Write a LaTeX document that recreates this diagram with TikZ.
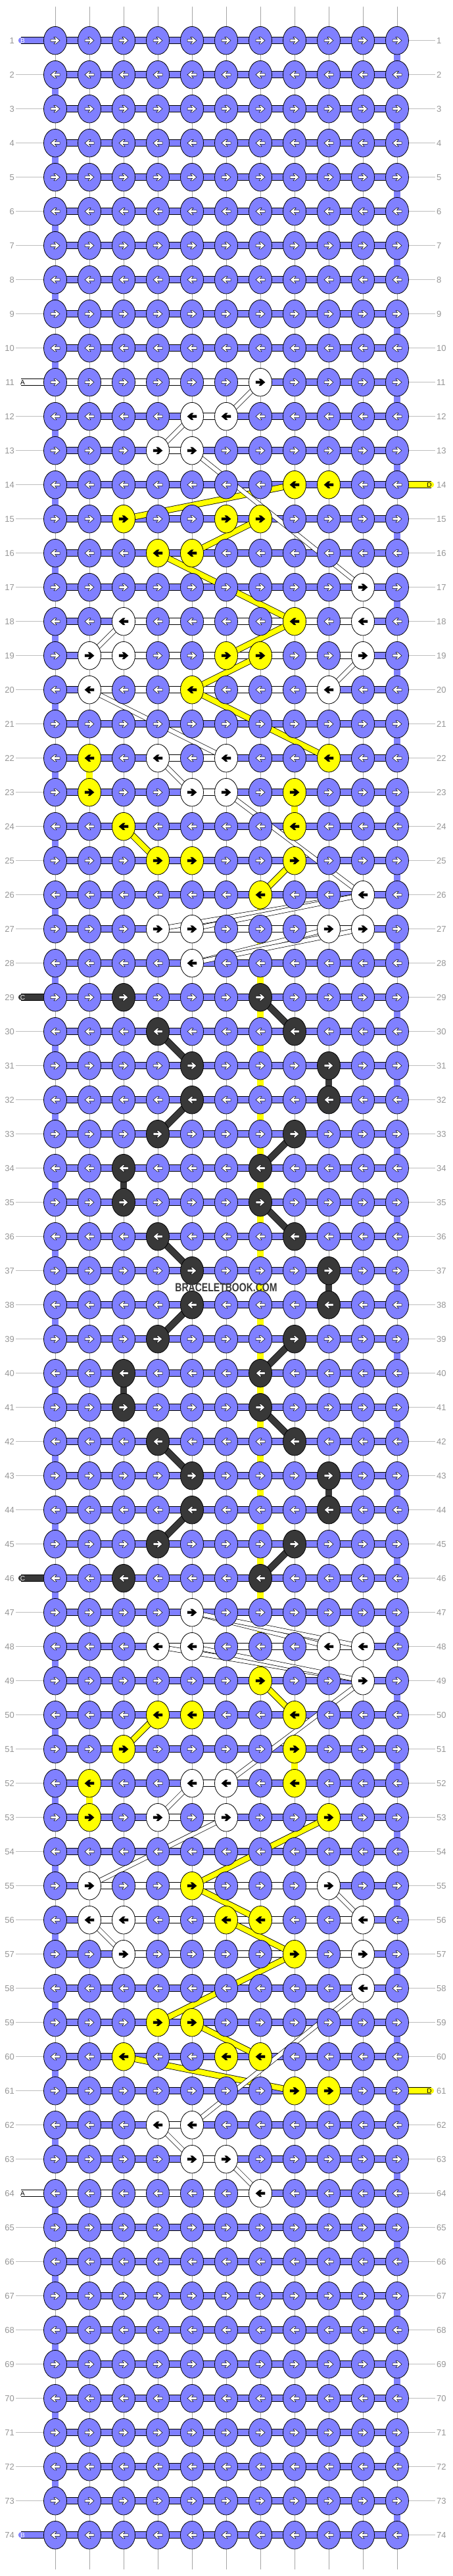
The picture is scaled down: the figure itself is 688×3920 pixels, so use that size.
\documentclass[tikz,border=0pt]{standalone}
\usepackage{fontspec}
\setmainfont{Liberation Sans}
\usetikzlibrary{shapes.geometric}

\definecolor{kblue}{RGB}{128,128,255}
\definecolor{kyellow}{RGB}{255,255,0}
\definecolor{kdark}{RGB}{56,56,56}
\definecolor{labgray}{RGB}{150,150,150}
\definecolor{linegray}{RGB}{190,190,190}
\definecolor{midgray}{RGB}{165,165,165}

\pgfdeclarelayer{bg}
\pgfdeclarelayer{back}
\pgfsetlayers{bg,back,main}

\newcommand\setknot[3]{\expandafter\xdef\csname kn#1-#2\endcsname{#3}}
\newcommand\setvcon[3]{\expandafter\xdef\csname vc#1-#2\endcsname{#3}}
\newcommand\setspan[3]{\expandafter\xdef\csname hsa#1\endcsname{#2}\expandafter\xdef\csname hsb#1\endcsname{#3}}

\tikzset{
  knot/.style={ellipse, draw=black, line width=0.8pt, minimum width=35pt, minimum height=42.6pt, inner sep=0pt},
  knotb/.style={knot, fill=kblue},
  knotw/.style={knot, fill=white},
  knoty/.style={knot, fill=kyellow},
  knotk/.style={knot, fill=kdark},
  arrb/.style={fill=white, draw=black, line width=0.5pt},
  arrk/.style={arrb},
  arrw/.style={fill=black},
  arry/.style={fill=black},
  strand/.style={line width=9.2pt, preaction={draw=black, line width=10.8pt}},
  vconw/.style={strand, draw=white, postaction={draw=midgray, line width=0.5pt}},
  vconb/.style={strand, draw=kblue},
  vcony/.style={strand, draw=kyellow},
  vconk/.style={strand, draw=kdark},
  hconb/.style={strand, draw=kblue},
  hconw/.style={strand, draw=white},
  tubeB/.style={strand, draw=kblue, line cap=round},
  tubeA/.style={strand, draw=white, line cap=round},
  tubeC/.style={strand, draw=kdark, line cap=round},
  tubeD/.style={strand, draw=kyellow, line cap=round},
  tubelab/.style={font=\fontsize{10}{10}\selectfont, inner sep=0pt},
  tubelabB/.style={tubelab, text=white},
  tubelabA/.style={tubelab, text=black},
  tubelabC/.style={tubelab, text=white},
  tubelabD/.style={tubelab, text=black},
  dyel/.style={line width=8pt, draw=kyellow, preaction={draw=black, line width=9.6pt}},
  dwht/.style={line width=6pt, draw=white, preaction={draw=black, line width=7.4pt}},
  dblk/.style={line width=9pt, draw=kdark, preaction={draw=black, line width=10.4pt}},
  lab/.style={font=\fontsize{13}{13}\selectfont, text=labgray, inner sep=2pt},
  gline/.style={draw=linegray, line width=0.8pt},
  wmark/.style={font=\bfseries\fontsize{18}{18}\selectfont, text=kdark, inner sep=0pt}
}

\begin{document}
\begin{tikzpicture}[x=1pt, y=-1pt]
\useasboundingbox (0,0) rectangle (688,3920);
\begin{pgfonlayer}{bg}
\fill[white] (0,0) rectangle (688,3920);
\end{pgfonlayer}

% knot colours (upper half, mirrored to the lower half)
\foreach \row/\col/\kk in {11/7/w, 12/5/w, 12/6/w, 13/4/w, 13/5/w, 14/8/y, 14/9/y,
    15/3/y, 15/6/y, 15/7/y, 16/4/y, 16/5/y, 17/10/w, 18/3/w, 18/8/y, 18/10/w,
    19/2/w, 19/3/w, 19/6/y, 19/7/y, 19/10/w, 20/2/w, 20/5/y, 20/9/w,
    22/2/y, 22/4/w, 22/6/w, 22/9/y, 23/2/y, 23/5/w, 23/6/w, 23/8/y,
    24/3/y, 24/8/y, 25/4/y, 25/5/y, 25/8/y, 26/7/y, 26/10/w,
    27/4/w, 27/5/w, 27/9/w, 27/10/w, 28/5/w,
    29/3/k, 29/7/k, 30/4/k, 30/8/k, 31/5/k, 31/9/k, 32/5/k, 32/9/k, 33/4/k, 33/8/k,
    34/3/k, 34/7/k, 35/3/k, 35/7/k, 36/4/k, 36/8/k, 37/5/k, 37/9/k}{
  \pgfmathtruncatemacro\mr{75-\row}
  \setknot{\row}{\col}{\kk}\setknot{\mr}{\col}{\kk}
}
% vertical strands that are not white
\foreach \row/\col/\kk in {22/2/y, 23/8/y, 26/7/y, 27/7/y, 28/7/y, 29/7/y, 30/7/y, 31/7/y,
    32/7/y, 33/7/y, 34/7/y, 35/7/y, 36/7/y, 37/7/y, 31/9/k, 34/3/k, 37/9/k}{
  \pgfmathtruncatemacro\mr{74-\row}
  \setvcon{\row}{\col}{\kk}\setvcon{\mr}{\col}{\kk}
}
% white runs along a row
\foreach \row/\sa/\sb in {11/1/7, 12/5/6, 13/4/5, 18/3/10, 19/2/10, 20/2/9, 22/4/6, 23/5/6, 27/4/10}{
  \pgfmathtruncatemacro\mr{75-\row}
  \setspan{\row}{\sa}{\sb}\setspan{\mr}{\sa}{\sb}
}

% knots
\foreach \row in {1,...,74}{
  \pgfmathtruncatemacro\dir{1-2*mod(\row+1,2)}
  \foreach \col in {1,...,11}{
    \ifcsname kn\row-\col\endcsname \edef\kc{\csname kn\row-\col\endcsname}\else \def\kc{b}\fi
    \node[knot\kc] (k\row-\col) at ({32+52*\col},{9.7+52*\row}) {};
    \draw[arr\kc, shift={(k\row-\col.center)}, xscale=\dir] (-7,1.8) -- (0.5,1.8) -- (-2,5.2)
      -- (0.8,5.2) -- (7,0) -- (0.8,-5.2) -- (-2,-5.2) -- (0.5,-1.8) -- (-7,-1.8) -- cycle;
  }
  \node[lab, anchor=east] (ll\row) at (24,{9.7+52*\row}) {\row};
  \node[lab, anchor=west] (lr\row) at (662,{9.7+52*\row}) {\row};
}

% loose ends at the sides
\foreach \row/\t in {1/B, 11/A, 29/C, 46/C, 64/A, 74/B}{
  \expandafter\xdef\csname lt\row\endcsname{\t}
  \node[tubelab\t] (tl\row) at (34.5,{9.7+52*\row}) {\t};
}
\foreach \row/\t in {14/D, 61/D}{
  \expandafter\xdef\csname rt\row\endcsname{\t}
  \node[tubelab\t] (tr\row) at (653,{9.7+52*\row}) {\t};
}

\node[wmark] (wm) at (344,1959) {\scalebox{0.78}[1]{BRACELETBOOK.COM}};

\begin{pgfonlayer}{back}
% row lines and side threads
\foreach \row in {1,...,74}{
  \ifcsname lt\row\endcsname
    \coordinate (sl\row) at (32.4,{9.7+52*\row});
    \draw[tube\csname lt\row\endcsname] (sl\row) -- (k\row-1.center);
  \else \draw[gline] (ll\row) -- (k\row-1); \fi
  \ifcsname rt\row\endcsname
    \coordinate (sr\row) at (655.6,{9.7+52*\row});
    \draw[tube\csname rt\row\endcsname] (k\row-11.center) -- (sr\row);
  \else \draw[gline] (k\row-11) -- (lr\row); \fi
}
% threads at top and bottom
\foreach \col in {1,...,11}{
  \coordinate (tt\col) at ({32+52*\col},10.4);
  \coordinate (bt\col) at ({32+52*\col},3909.6);
  \draw[vconw, line cap=round] (tt\col) -- (k1-\col.center);
  \draw[vconw, line cap=round] (k74-\col.center) -- (bt\col);
}
% vertical strands
\foreach \row in {1,...,73}{
  \pgfmathtruncatemacro\nr{\row+1}
  \foreach \col in {1,...,11}{
    \def\vk{w}
    \ifodd\row\relax \ifnum\col=11 \def\vk{b}\fi \else \ifnum\col=1 \def\vk{b}\fi \fi
    \ifcsname vc\row-\col\endcsname \edef\vk{\csname vc\row-\col\endcsname}\fi
    \draw[vcon\vk] (k\row-\col.center) -- (k\nr-\col.center);
  }
}
% horizontal strands
\foreach \row in {1,...,74}{
  \ifcsname hsa\row\endcsname
    \edef\ha{\csname hsa\row\endcsname}\edef\hb{\csname hsb\row\endcsname}%
  \else \def\ha{99}\def\hb{0}\fi
  \foreach \col in {1,...,10}{
    \pgfmathtruncatemacro\nx{\col+1}
    \def\hc{hconb}
    \ifnum\col<\ha\relax\else\ifnum\nx>\hb\relax\else\def\hc{hconw}\fi\fi
    \draw[\hc] (k\row-\col.center) -- (k\row-\nx.center);
  }
}
% yellow threads
\foreach \ra/\ca/\rb/\cb in {14/8/15/3, 15/7/16/5, 16/4/17/6, 17/6/18/8, 18/8/19/6,
    19/7/20/5, 20/5/21/7, 21/7/22/9, 24/3/25/4, 25/8/26/7}{
  \pgfmathtruncatemacro\ma{75-\ra}\pgfmathtruncatemacro\mb{75-\rb}
  \draw[dyel] (k\ra-\ca.center) -- (k\rb-\cb.center);
  \draw[dyel] (k\ma-\ca.center) -- (k\mb-\cb.center);
}
% white threads
\foreach \ra/\ca/\rb/\cb in {11/7/12/6, 12/5/13/4, 13/5/17/10, 18/3/19/2, 19/10/20/9,
    20/2/22/6, 22/4/23/5, 23/6/26/10, 26/10/27/4, 26/10/27/5, 27/9/28/5, 27/10/28/5}{
  \pgfmathtruncatemacro\ma{75-\ra}\pgfmathtruncatemacro\mb{75-\rb}
  \draw[dwht] (k\ra-\ca.center) -- (k\rb-\cb.center);
  \draw[dwht] (k\ma-\ca.center) -- (k\mb-\cb.center);
}
% dark threads
\foreach \ra/\ca/\rb/\cb in {29/7/30/8, 30/4/31/5, 32/5/33/4, 33/8/34/7, 35/7/36/8, 36/4/37/5}{
  \pgfmathtruncatemacro\ma{75-\ra}\pgfmathtruncatemacro\mb{75-\rb}
  \draw[dblk] (k\ra-\ca.center) -- (k\rb-\cb.center);
  \draw[dblk] (k\ma-\ca.center) -- (k\mb-\cb.center);
}
\end{pgfonlayer}
\end{tikzpicture}
\end{document}
